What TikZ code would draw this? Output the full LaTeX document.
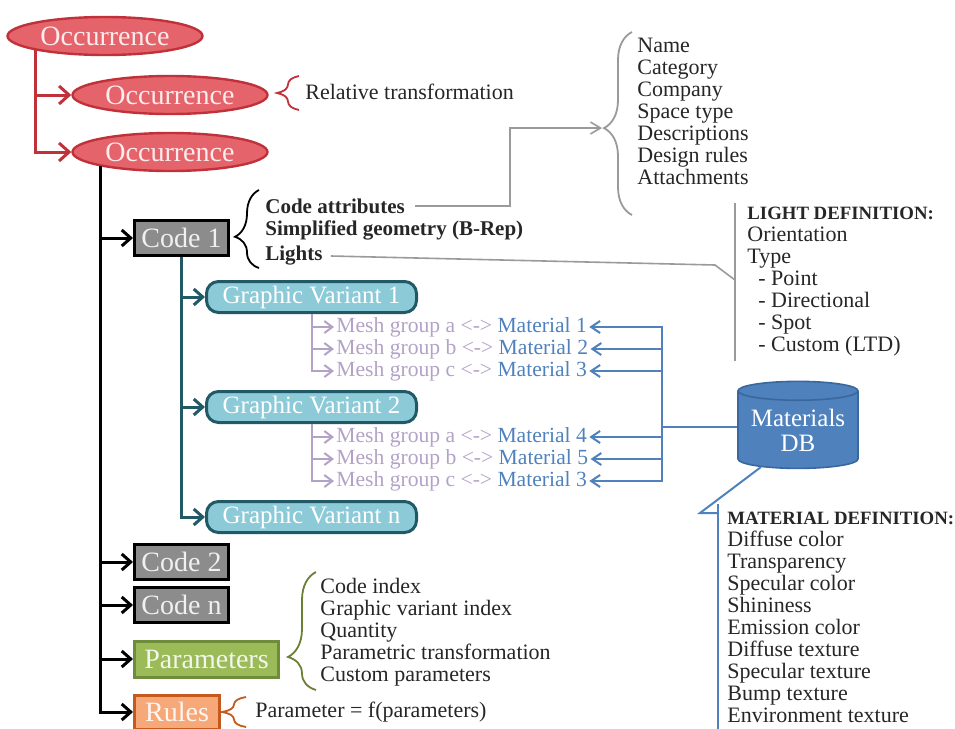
\documentclass[tikz,border=0pt]{standalone}
\usepackage{fontspec}
\setmainfont{Liberation Serif}
\usetikzlibrary{positioning, shapes.geometric, arrows.meta, decorations.pathreplacing}

\definecolor{occred}{HTML}{E5646B}
\definecolor{occedge}{HTML}{C0313A}
\definecolor{codegray}{HTML}{8C8C8C}
\definecolor{gvfill}{HTML}{8CCAD8}
\definecolor{gvedge}{HTML}{215967}
\definecolor{meshpurple}{HTML}{B3A2C7}
\definecolor{matblue}{HTML}{4F81BD}
\definecolor{dbedge}{HTML}{3A679E}
\definecolor{parfill}{HTML}{9BBB59}
\definecolor{paredge}{HTML}{6E8C3A}
\definecolor{rulefill}{HTML}{F7A878}
\definecolor{ruleedge}{HTML}{C55A1E}
\definecolor{linkgray}{HTML}{9A9A9A}
\definecolor{bracegreen}{HTML}{6B7F35}

\newcommand{\headfont}{\fontsize{9.4}{11}\selectfont\bfseries}

\tikzset{occ/.style={ellipse, draw=occedge, line width=1.2pt, fill=occred, text=white!88!occred, minimum width=97.5pt, minimum height=19pt, inner sep=0pt, font=\fontsize{14}{14}\selectfont},
codebox/.style={draw=black, line width=1.5pt, fill=codegray, text=white!94!black, minimum width=47pt, minimum height=17.5pt, inner sep=0pt, anchor=west, font=\fontsize{14}{14}\selectfont},
gvbox/.style={draw=gvedge, line width=1.5pt, fill=gvfill, text=white, rounded corners=6pt, minimum width=105pt, minimum height=15.5pt, inner sep=0pt, anchor=west, font=\fontsize{12.5}{12.5}\selectfont},
mesh/.style={anchor=west, inner sep=1pt, text=meshpurple, font=\fontsize{10.8}{10.8}\selectfont},
list/.style={anchor=north west, align=left, inner sep=0pt, text=black!85, font=\fontsize{11}{11}\selectfont},
side/.style={anchor=west, inner sep=0pt, text=black!85, font=\fontsize{11}{11}\selectfont},
boldside/.style={side, font=\fontsize{10.5}{11}\selectfont\bfseries},
redline/.style={draw=occedge, line width=1.5pt, -{Straight Barb[length=5pt, width=9pt]}},
blackline/.style={draw=black, line width=1.5pt, -{Straight Barb[length=4.5pt, width=8pt]}},
tealline/.style={draw=gvedge, line width=1.5pt, -{Straight Barb[length=4.5pt, width=8pt]}},
meshline/.style={draw=meshpurple, line width=1pt, -{Straight Barb[length=4pt, width=6pt]}},
blueline/.style={draw=matblue, line width=1pt},
bluearrow/.style={blueline, -{Straight Barb[length=4.5pt, width=6pt]}},
grayline/.style={draw=linkgray, line width=0.8pt},
grayarrow/.style={grayline, -{Straight Barb[length=5pt, width=6pt]}},
curly/.style={decorate, line width=0.9pt, decoration={brace, amplitude=#1}}
}

\begin{document}
\begin{tikzpicture}[x=0.5pt, y=-0.5pt]
\useasboundingbox (0,0) rectangle (955,729);

% occurrences
\node[occ] (occ1) at (105,36) {Occurrence};
\node[occ] (occ2) at (170,95) {Occurrence};
\node[occ] (occ3) at (170,152) {Occurrence};
\draw[redline] (occ1.south west) |- (occ2);
\draw[redline] (occ1.south west) |- (occ3);

\draw[curly=11pt, occedge, decoration={aspect=0.5}] (299,110) -- (299,76);
\node[side] (reltrans) at (305,92) {Relative transformation};

% codes, parameters, rules
\node[codebox] (code1) at (133,238) {Code 1};
\node[codebox] (code2) at (133,562) {Code 2};
\node[codebox] (codeN) at (133,605) {Code n};
\node[codebox, fill=parfill, draw=paredge, text=white!88!parfill, minimum width=72pt, minimum height=18pt] (params) at (133,659) {Parameters};
\node[codebox, fill=rulefill, draw=ruleedge, text=white!90!rulefill, minimum width=42.5pt, minimum height=17pt] (rules) at (133,712) {Rules};
\draw[blackline] (occ3.south west) |- (code1);
\draw[blackline] (occ3.south west) |- (code2);
\draw[blackline] (occ3.south west) |- (codeN);
\draw[blackline] (occ3.south west) |- (params);
\draw[blackline] (occ3.south west) |- (rules);

% code 1 contents
\draw[curly=12pt, black, decoration={aspect=0.4}] (259,268) -- (259,190);
\node[boldside] (attr) at (265,206) {Code attributes};
\node[boldside] (geom) at (265,230) {Simplified geometry (B-Rep)};
\node[boldside] (lights) at (265,256) {Lights};

\coordinate (attrtip) at (602,128);
\draw[grayarrow] (attr.east) ++(10,0) -| (510,128) -- (attrtip);
\draw[curly=14pt, linkgray, decoration={aspect=0.475}] (632,215) -- (632,32);
\node[list] (attrlist) at (637,38) {Name\\Category\\Company\\Space type\\Descriptions\\Design rules\\Attachments};

\node[list, inner xsep=6pt, inner ysep=2pt] (lightdef) at (735,203) {{\headfont LIGHT DEFINITION:}\\Orientation\\Type\\\ \ - Point\\\ \ - Directional\\\ \ - Spot\\\ \ - Custom (LTD)};
\coordinate (lbend) at (715,265);
\draw[grayline] (lights.east) ++(8,0) -- (lbend) -- (lightdef.west |- 0,280);
\draw[grayline] (lightdef.north west) -- (lightdef.south west);

% graphic variants
\node[gvbox] (gv1) at (205,297) {Graphic Variant 1};
\node[gvbox] (gv2) at (205,407) {Graphic Variant 2};
\node[gvbox] (gvN) at (205,517) {Graphic Variant n};
\draw[tealline] (code1.south) |- (gv1);
\draw[tealline] (code1.south) |- (gv2);
\draw[tealline] (code1.south) |- (gvN);

\node[mesh] (m1a) at (334,327) {Mesh group a <-> \textcolor{matblue}{Material 1}};
\node[mesh] (m1b) at (334,349) {Mesh group b <-> \textcolor{matblue}{Material 2}};
\node[mesh] (m1c) at (334,371) {Mesh group c <-> \textcolor{matblue}{Material 3}};
\node[mesh] (m2a) at (334,437) {Mesh group a <-> \textcolor{matblue}{Material 4}};
\node[mesh] (m2b) at (334,459) {Mesh group b <-> \textcolor{matblue}{Material 5}};
\node[mesh] (m2c) at (334,481) {Mesh group c <-> \textcolor{matblue}{Material 3}};
\draw[meshline] (gv1.south) |- (m1a);
\draw[meshline] (gv1.south) |- (m1b);
\draw[meshline] (gv1.south) |- (m1c);
\draw[meshline] (gv2.south) |- (m2a);
\draw[meshline] (gv2.south) |- (m2b);
\draw[meshline] (gv2.south) |- (m2c);

% materials database
\node[cylinder, shape border rotate=90, aspect=0.2, draw=dbedge, line width=0.8pt, fill=matblue, text=white, minimum height=43.5pt, minimum width=60pt, inner sep=0pt, align=center, font=\fontsize{12.5}{12.5}\selectfont] (db) at (798,430) {Materials\\DB};
\coordinate (hub) at (662,427);
\draw[blueline] (hub) -- (hub -| db.west);
\draw[bluearrow] (hub) |- (m1a);
\draw[bluearrow] (hub) |- (m1b);
\draw[bluearrow] (hub) |- (m1c);
\draw[bluearrow] (hub) |- (m2a);
\draw[bluearrow] (hub) |- (m2b);
\draw[bluearrow] (hub) |- (m2c);

\node[list, inner xsep=4.5pt, inner ysep=4pt] (matdef) at (718,504) {{\headfont MATERIAL DEFINITION:}\\Diffuse color\\Transparency\\Specular color\\Shininess\\Emission color\\Diffuse texture\\Specular texture\\Bump texture\\Environment texture};
\coordinate (mcorner) at (700,513);
\draw[blueline] (db.south west) -- (mcorner) -- (matdef.west |- mcorner);
\draw[blueline] (matdef.north west) -- (matdef.south west);

% parameters and rules
\draw[curly=14pt, bracegreen, decoration={aspect=0.28}] (316,690) -- (316,572);
\node[list] (paramlist) at (320,578) {Code index\\Graphic variant index\\Quantity\\Parametric transformation\\Custom parameters};
\draw[curly=12pt, ruleedge, decoration={aspect=0.5}] (246,727) -- (246,697);
\node[side] (rulef) at (255,712) {Parameter = f(parameters)};
\end{tikzpicture}
\end{document}
